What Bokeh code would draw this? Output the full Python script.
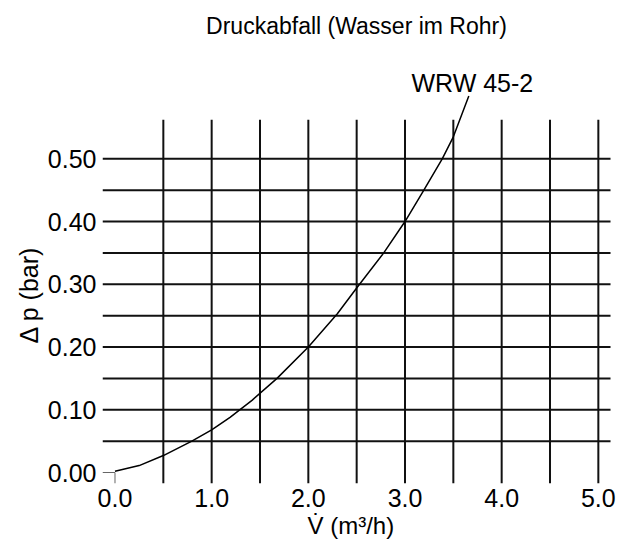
from bokeh.plotting import figure
from bokeh.models import Range1d, FixedTicker, Label, Title
from bokeh.embed import file_html
from bokeh.resources import INLINE

# ---- data ----
flow = [0.0, 0.25, 0.5, 0.795, 1.0, 1.19, 1.417, 1.676, 2.0, 2.3, 2.5, 2.78, 3.0, 3.195, 3.385, 3.5, 3.66]
dp = [0.002, 0.011, 0.027, 0.05, 0.068, 0.088, 0.115, 0.15, 0.20, 0.253, 0.294, 0.35, 0.40, 0.45, 0.50, 0.535, 0.60]

x_ticks = [0.0, 1.0, 2.0, 3.0, 4.0, 5.0]
x_tick_labels = ["0.0", "1.0", "2.0", "3.0", "4.0", "5.0"]
y_ticks = [0.0, 0.1, 0.2, 0.3, 0.4, 0.5]
y_tick_labels = ["0.00", "0.10", "0.20", "0.30", "0.40", "0.50"]
x_grid = [0.5, 1.0, 1.5, 2.0, 2.5, 3.0, 3.5, 4.0, 4.5, 5.0]
y_grid = [0.05, 0.10, 0.15, 0.20, 0.25, 0.30, 0.35, 0.40, 0.45, 0.50]

title_text = "Druckabfall (Wasser im Rohr)"
series_name = "WRW 45-2"
x_label = "V\u0307 (m\u00b3/h)"
y_label = "\u0394 p (bar)"

FONT = "Liberation Sans"

# ---- extents ----
X_LO, X_HI = -0.1293, 5.312
Y_LO, Y_HI = -0.01753, 0.7523
GRID_X_HI, GRID_Y_HI = 5.126, 0.5622

p = figure(width=628, height=545, output_backend="svg", toolbar_location=None,
           x_range=Range1d(X_LO, X_HI), y_range=Range1d(Y_LO, Y_HI),
           min_border_left=102, min_border_right=0, min_border_top=0, min_border_bottom=62)
p.outline_line_color = None
p.xgrid.visible = False
p.ygrid.visible = False
p.background_fill_color = "white"
p.border_fill_color = "white"

# grid lines
p.segment(x0=x_grid, x1=x_grid, y0=[Y_LO] * len(x_grid), y1=[GRID_Y_HI] * len(x_grid),
          line_color="#111111", line_width=2)
p.segment(x0=[X_LO] * len(y_grid), x1=[GRID_X_HI] * len(y_grid), y0=y_grid, y1=y_grid,
          line_color="#111111", line_width=2)
# zero stubs
p.segment(x0=[X_LO, x_ticks[0]], x1=[x_ticks[0], x_ticks[0]], y0=[y_ticks[0], Y_LO],
          y1=[y_ticks[0], y_ticks[0]], line_color="#666666", line_width=1)

# curve
p.line(flow, dp, line_color="black", line_width=1.5)

# axes (tick labels only)
for ax in (p.xaxis[0], p.yaxis[0]):
    ax.axis_line_color = None
    ax.major_tick_line_color = None
    ax.minor_tick_line_color = None
    ax.major_tick_out = 0
    ax.major_tick_in = 0
    ax.major_label_text_font = FONT
    ax.major_label_text_font_size = "25px"
    ax.major_label_text_color = "black"
p.xaxis[0].ticker = FixedTicker(ticks=x_ticks)
p.xaxis[0].major_label_overrides = {t: l for t, l in zip(x_ticks, x_tick_labels)}
p.xaxis[0].major_label_standoff = 5
p.yaxis[0].ticker = FixedTicker(ticks=y_ticks)
p.yaxis[0].major_label_overrides = {t: l for t, l in zip(y_ticks, y_tick_labels)}
p.yaxis[0].major_label_standoff = 6

# axis titles
p.add_layout(Title(text=x_label, align="left", offset=205, standoff=0,
                   text_font=FONT, text_font_size="24px", text_font_style="normal",
                   text_color="black"), "below")
p.add_layout(Title(text=y_label, align="left", offset=140, standoff=4,
                   text_font=FONT, text_font_size="25px", text_font_style="normal",
                   text_color="black"), "left")

# texts inside the frame
p.add_layout(Label(x=2.498, y=0.7114, text=title_text, text_font=FONT, text_font_size="23px",
                   text_align="center", text_baseline="alphabetic", text_color="black"))
p.add_layout(Label(x=3.067, y=0.6212, text=series_name, text_font=FONT, text_font_size="25px",
                   text_align="left", text_baseline="alphabetic", text_color="black"))

open("out.html", "w").write(file_html(p, INLINE))
